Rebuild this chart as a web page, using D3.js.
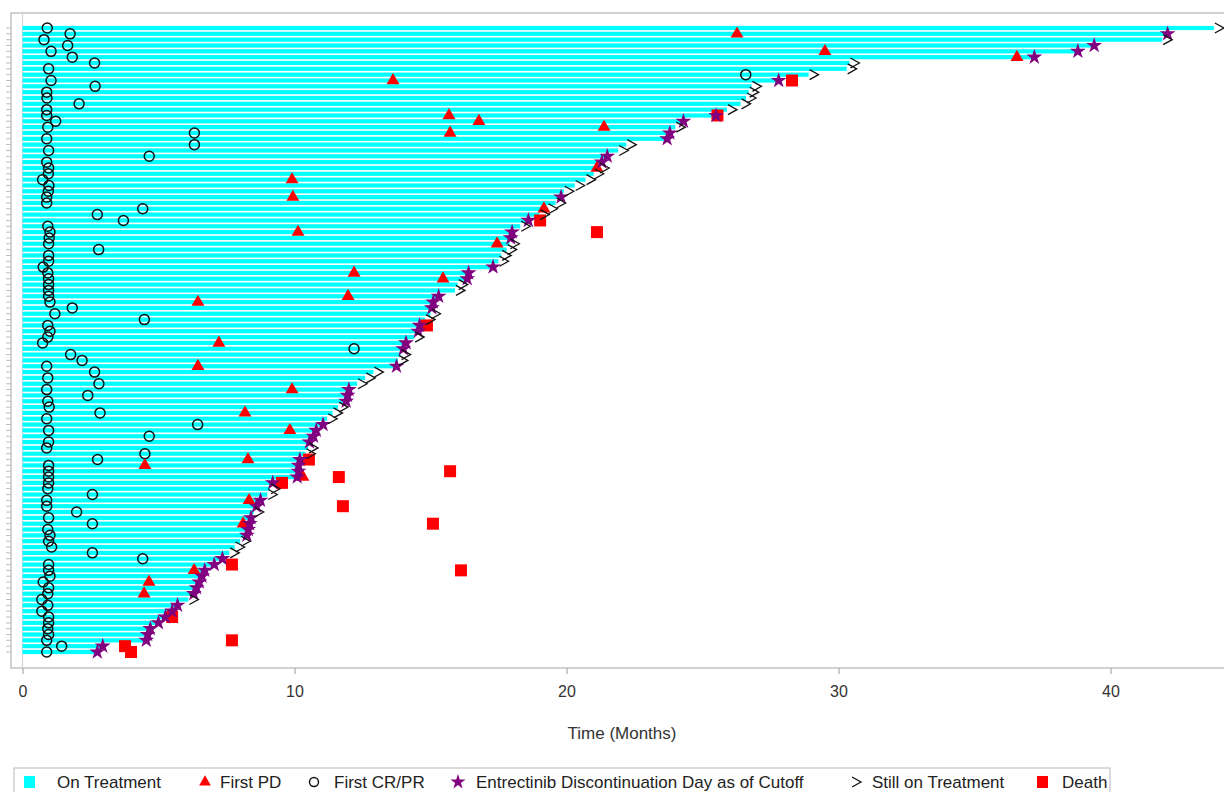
<!DOCTYPE html>
<html>
<head>
<meta charset="utf-8">
<script src="https://cdn.jsdelivr.net/npm/d3@7.9.0/dist/d3.min.js"></script>
<style>
  body { margin: 0; background: #fff; }
  svg { display: block; font-family: "Liberation Sans", Arial, sans-serif; }
</style>
</head>
<body>
<svg id="chart" width="1224" height="792"></svg>
<script>
// months on treatment per patient, top row first
const treatEnd = [
  43.8, 42.1, 41.9, 39.4, 38.8, 37.2, 30.4, 30.3, 28.9, 27.8,
  26.8, 26.7, 26.6, 26.4, 25.9, 25.5, 24.3, 24.0, 23.8, 23.7,
  22.2, 21.9, 21.5, 21.3, 21.2, 21.0, 20.7, 20.3, 19.9, 19.8,
  19.6, 19.3, 19.0, 18.6, 18.3, 18.0, 17.95, 17.9, 17.8, 17.6,
  17.5, 17.3, 16.4, 16.35, 16.0, 15.9, 15.3, 15.1, 15.05, 15.0,
  14.8, 14.6, 14.55, 14.4, 14.1, 14.0, 13.9, 13.8, 13.75, 12.9,
  12.6, 12.3, 12.0, 11.95, 11.9, 11.6, 11.4, 11.2, 11.05, 10.8,
  10.7, 10.55, 10.5, 10.4, 10.2, 10.15, 10.15, 10.1, 9.2, 9.1,
  9.0, 8.75, 8.6, 8.5, 8.4, 8.35, 8.3, 8.25, 8.0, 7.8,
  7.6, 7.35, 7.05, 6.7, 6.6, 6.5, 6.4, 6.3, 6.1, 5.7,
  5.5, 5.25, 5.0, 4.7, 4.6, 4.55, 2.95, 2.75
];
// S = discontinued (star), A = still on treatment (arrow)
const endType = (
  "ASASSSAAAS" + "AAAAASSASS" + "AASSAAAAAS" + "AAASASSAAA" + "ASSSAASSSA" +
  "ASSASSAASA" + "AASSSAAASS" + "SSAASSSSSA" + "ASSASSSSAA" + "ASSSSSSSAS" +
  "SSSSSSSS"
).split("");
// first CR/PR, months
const firstResp = [
  0.91, 1.75, 0.79, 1.66, 1.05, 1.83, 2.65, 0.96, 26.59, 1.05,
  2.67, 0.89, 0.90, 2.08, 0.89, 0.89, 1.22, 0.93, 6.32, 0.89,
  6.32, 0.96, 4.66, 0.89, 0.96, 0.95, 0.74, 0.97, 0.95, 0.89,
  0.89, 4.42, 2.75, 3.71, 0.93, 1.01, 0.98, 0.96, 2.80, 0.96,
  0.96, 0.76, 0.93, 0.96, 0.96, 0.96, 0.96, 1.01, 1.83, 1.19,
  4.48, 0.93, 1.01, 0.93, 0.74, 12.19, 1.77, 2.19, 0.89, 2.65,
  0.93, 2.81, 0.89, 2.40, 0.93, 0.98, 2.85, 0.89, 6.44, 0.96,
  4.66, 0.96, 0.89, 4.50, 2.76, 0.96, 0.96, 0.96, 0.96, 0.93,
  2.57, 0.89, 0.89, 1.99, 0.96, 2.57, 0.93, 1.01, 0.96, 1.07,
  2.57, 4.42, 0.96, 0.96, 1.01, 0.76, 0.96, 0.93, 0.71, 0.93,
  0.71, 0.96, 0.96, 0.93, 0.96, 0.89, 1.44, 0.89
];
// [row, month]
const firstPD = [
  [1, 26.27], [4, 29.5], [5, 36.56], [9, 13.62], [15, 15.68], [16, 16.78],
  [17, 21.38], [18, 15.72], [24, 21.12], [26, 9.91], [29, 9.94], [31, 19.17],
  [35, 10.13], [37, 17.45], [42, 12.19], [43, 15.46], [46, 11.97], [47, 6.45],
  [54, 7.22], [58, 6.45], [62, 9.91], [66, 8.18], [69, 9.83], [74, 8.29],
  [75, 4.50], [77, 10.31], [81, 8.33], [85, 8.11], [93, 6.31], [95, 4.65], [97, 4.47]
];
const death = [
  [9, 28.29], [15, 25.55], [33, 19.03], [35, 21.12], [51, 14.87], [74, 10.53],
  [76, 15.72], [77, 11.63], [78, 9.54], [82, 11.78], [85, 15.09], [92, 7.70],
  [93, 16.12], [101, 5.50], [105, 7.70], [106, 3.77], [107, 3.99]
];
const xTicks = [0, 10, 20, 30, 40];
const legendItems = ["On Treatment", "First PD", "First CR/PR",
  "Entrectinib Discontinuation Day as of Cutoff", "Still on Treatment", "Death"];

const cyan = "#00ffff", red = "#ff0000", purple = "#800080";

const svg = d3.select("#chart");
const x = d3.scaleLinear().domain([0, 40]).range([22.5, 1110.5]);
const y = d3.scaleLinear().domain([0, treatEnd.length - 1]).range([28, 652]);
const frame = { left: 11, top: 13, right: 1230, bottom: 668 };

// frame
svg.append("rect")
  .attr("x", frame.left).attr("y", frame.top)
  .attr("width", frame.right - frame.left).attr("height", frame.bottom - frame.top)
  .attr("fill", "none").attr("stroke", "#c4c4c4").attr("stroke-width", 1.5);
svg.append("line")
  .attr("x1", x(0)).attr("x2", x(0)).attr("y1", frame.top).attr("y2", frame.bottom)
  .attr("stroke", "#d6d6d6").attr("stroke-width", 1.2);

// y ticks (no labels)
svg.append("g").selectAll("line").data(treatEnd).join("line")
  .attr("x1", 6).attr("x2", frame.left)
  .attr("y1", (d, i) => y(i)).attr("y2", (d, i) => y(i))
  .attr("stroke", "#bdbdbd").attr("stroke-width", 1);

// x axis
const xAxis = svg.append("g").attr("transform", `translate(0,${frame.bottom})`)
  .call(d3.axisBottom(x).tickValues(xTicks).tickSize(6).tickPadding(12).tickSizeOuter(0));
xAxis.select(".domain").remove();
xAxis.selectAll(".tick line").attr("stroke", "#9a9a9a");
xAxis.selectAll(".tick text").attr("font-size", 16).attr("fill", "#333")
  .attr("font-family", "Liberation Sans, Arial, sans-serif");
svg.append("text").attr("x", 622).attr("y", 739).attr("text-anchor", "middle")
  .attr("font-size", 17).attr("fill", "#333").text("Time (Months)");

// bars
const barH = 4.2;
svg.append("g").selectAll("rect").data(treatEnd).join("rect")
  .attr("x", x(0)).attr("y", (d, i) => y(i) - barH / 2)
  .attr("width", d => x(d) - x(0)).attr("height", barH)
  .attr("fill", cyan);

const sym = (type, size) => d3.symbol().type(type).size(size)();

// first CR/PR
svg.append("g").selectAll("circle")
  .data(firstResp.map((m, i) => [i, m]).filter(d => d[1] != null)).join("circle")
  .attr("cx", d => x(d[1])).attr("cy", d => y(d[0])).attr("r", 5)
  .attr("fill", "none").attr("stroke", "#111").attr("stroke-width", 1.5);

// first PD
svg.append("g").selectAll("path").data(firstPD).join("path")
  .attr("d", sym(d3.symbolTriangle, 72))
  .attr("transform", d => `translate(${x(d[1])},${y(d[0])})`)
  .attr("fill", red);

// death
svg.append("g").selectAll("path").data(death).join("path")
  .attr("d", sym(d3.symbolSquare, 144))
  .attr("transform", d => `translate(${x(d[1])},${y(d[0])})`)
  .attr("fill", red);

// discontinuation stars
const rowsEnd = treatEnd.map((m, i) => ({ row: i, m, type: endType[i] }));
svg.append("g").selectAll("path").data(rowsEnd.filter(d => d.type === "S")).join("path")
  .attr("d", sym(d3.symbolStar, 78))
  .attr("transform", d => `translate(${x(d.m)},${y(d.row)})`)
  .attr("fill", purple);

// still on treatment
const arrowPath = "M-4,-5L5,0L-4,5";
svg.append("g").selectAll("path").data(rowsEnd.filter(d => d.type === "A")).join("path")
  .attr("d", arrowPath)
  .attr("transform", d => `translate(${x(d.m) + 5},${y(d.row)})`)
  .attr("fill", "none").attr("stroke", "#111").attr("stroke-width", 1.3);

// legend
const lg = svg.append("g");
lg.append("rect").attr("x", 14).attr("y", 768).attr("width", 1096).attr("height", 40)
  .attr("fill", "none").attr("stroke", "#c4c4c4").attr("stroke-width", 1.2);
const legX = [{ s: 29, t: 57 }, { s: 205, t: 220 }, { s: 314, t: 334 },
  { s: 458, t: 476 }, { s: 856, t: 872 }, { s: 1042, t: 1062 }];
const ly = 782;
lg.append("rect").attr("x", legX[0].s - 5).attr("y", ly - 6).attr("width", 11).attr("height", 12).attr("fill", cyan);
lg.append("path").attr("d", sym(d3.symbolTriangle, 60)).attr("transform", `translate(${legX[1].s},${ly})`).attr("fill", red);
lg.append("circle").attr("cx", legX[2].s).attr("cy", ly).attr("r", 4.5).attr("fill", "none").attr("stroke", "#111").attr("stroke-width", 1.4);
lg.append("path").attr("d", sym(d3.symbolStar, 70)).attr("transform", `translate(${legX[3].s},${ly})`).attr("fill", purple);
lg.append("path").attr("d", arrowPath).attr("transform", `translate(${legX[4].s},${ly})`).attr("fill", "none").attr("stroke", "#111").attr("stroke-width", 1.3);
lg.append("rect").attr("x", legX[5].s - 5).attr("y", ly - 6).attr("width", 11).attr("height", 12).attr("fill", red);
lg.selectAll("text").data(legendItems).join("text")
  .attr("x", (d, i) => legX[i].t).attr("y", 788)
  .attr("font-size", 17).attr("fill", "#222").text(d => d);
</script>
</body>
</html>
